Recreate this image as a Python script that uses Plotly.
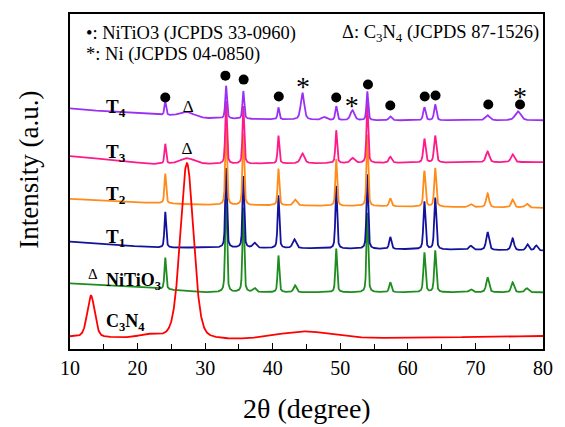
import numpy as np
import plotly.graph_objects as go

# ---------------- data ----------------
# x: 2theta (degree); y: intensity (arbitrary units, stacked offsets)
bg_2theta = [10, 15, 22, 30, 50, 80]

c3n4_bg = [12, 11, 10, 8, 10, 13]
c3n4_pos = [13.1, 21.5, 27.3, 44.5]
c3n4_amp = [42, 3, 178, 8]
c3n4_fwhm = [1.3, 3.0, 2.3, 10.0]

nitio3_bg = [66, 64, 61, 57, 57, 57]
nitio3_pos = [24.1, 33.1, 35.65, 37.3, 40.85, 43.3, 49.4, 54.0, 57.4, 62.45, 64.05, 69.3, 71.8, 75.5, 77.6]
nitio3_amp = [32, 105, 85, 4, 37, 7, 44, 80, 10, 40, 42, 3, 15, 10, 4]
nitio3_fwhm = [0.3, 0.3, 0.3, 0.6, 0.3, 0.5, 0.3, 0.3, 0.4, 0.35, 0.35, 0.6, 0.5, 0.5, 0.6]

t1_bg = [108, 106, 102, 102, 101, 99]
t1_pos = [24.1, 33.1, 35.65, 37.3, 40.85, 43.2, 49.4, 54.0, 57.4, 62.45, 64.05, 69.3, 71.8, 75.5, 77.7, 79.0]
t1_amp = [36, 80, 72, 5, 53, 9, 63, 75, 12, 48, 52, 4, 18, 12, 6, 5]
t1_fwhm = [0.3, 0.3, 0.3, 0.6, 0.3, 0.6, 0.3, 0.3, 0.4, 0.35, 0.35, 0.6, 0.5, 0.5, 0.5, 0.5]

t2_bg = [151, 149, 147, 145, 144, 142]
t2_pos = [24.1, 33.1, 35.65, 40.85, 43.3, 49.4, 54.0, 57.4, 62.45, 64.05, 69.3, 71.8, 75.5, 77.6]
t2_amp = [30, 80, 72, 37, 6, 47, 72, 8, 36, 39, 3, 14, 8, 4]
t2_fwhm = [0.3, 0.3, 0.3, 0.3, 0.6, 0.3, 0.3, 0.4, 0.35, 0.35, 0.6, 0.5, 0.5, 0.6]

t3_bg = [194, 191, 186, 186, 187, 188]
t3_pos = [24.1, 27.3, 33.1, 35.65, 40.85, 44.4, 49.4, 51.8, 54.0, 57.4, 62.45, 64.05, 71.8, 75.5]
t3_amp = [20, 6, 63, 58, 28, 10, 33, 5, 60, 6, 24, 27, 11, 8]
t3_fwhm = [0.3, 2.5, 0.3, 0.3, 0.3, 0.7, 0.3, 0.7, 0.3, 0.5, 0.4, 0.4, 0.6, 0.6]

t4_bg = [242, 239, 236, 232, 230, 230]
t4_pos = [24.1, 27.3, 33.1, 35.65, 40.85, 44.4, 47.6, 49.4, 51.8, 54.0, 57.4, 62.45, 64.05, 71.8, 76.3]
t4_amp = [14, 5, 33, 28, 12, 27, 3, 14, 10, 29, 4, 13, 16, 5, 9]
t4_fwhm = [0.3, 2.5, 0.3, 0.3, 0.3, 0.6, 0.8, 0.35, 0.7, 0.3, 0.5, 0.4, 0.4, 0.8, 1.0]

# phase markers above the T4 pattern
dot_2theta = [24.1, 33.0, 35.7, 40.9, 49.4, 54.1, 57.4, 62.5, 64.1, 71.9, 76.6]
dot_level = [253, 275, 271, 254, 253, 266, 245, 254, 255, 246, 246]
star_2theta = [44.5, 51.7, 76.6]
star_level = [269, 249, 259]
delta_2theta = [27.5, 27.3]
delta_level = [243, 200]

x_ticks = [10, 20, 30, 40, 50, 60, 70, 80]

# ---------------- build profiles ----------------
tt = np.linspace(10, 80, 2801)


def pattern(bg, pos, amp, fwhm, eta=0.5):
    y = np.interp(tt, bg_2theta, bg).astype(float)
    for c, a, w in zip(pos, amp, fwhm):
        d2 = 4.0 * (tt - c) ** 2 / w ** 2
        y += a * (eta / (1.0 + d2) + (1 - eta) * np.exp(-np.log(2) * d2))
    return y


series = [
    ("NiTiO3", nitio3_bg, nitio3_pos, nitio3_amp, nitio3_fwhm, 0.5, "#1E8C1E"),
    ("T1", t1_bg, t1_pos, t1_amp, t1_fwhm, 0.5, "#12129C"),
    ("T2", t2_bg, t2_pos, t2_amp, t2_fwhm, 0.5, "#FF8C1A"),
    ("T3", t3_bg, t3_pos, t3_amp, t3_fwhm, 0.5, "#FF1A8C"),
    ("T4", t4_bg, t4_pos, t4_amp, t4_fwhm, 0.5, "#9B30F5"),
    ("C3N4", c3n4_bg, c3n4_pos, c3n4_amp, c3n4_fwhm, 0.3, "#FF0000"),
]

fig = go.Figure()
for name, bg, pos, amp, fw, eta, col in series:
    fig.add_trace(go.Scatter(x=tt, y=pattern(bg, pos, amp, fw, eta), mode="lines",
                             line=dict(color=col, width=1.8), name=name,
                             showlegend=False, hoverinfo="skip"))

SERIF = "Liberation Serif"
fig.add_trace(go.Scatter(x=dot_2theta, y=dot_level, mode="markers",
                         marker=dict(symbol="circle", size=10, color="black"),
                         showlegend=False, hoverinfo="skip"))
fig.add_trace(go.Scatter(x=star_2theta, y=[v - 7 for v in star_level], mode="text",
                         text=["*"] * len(star_2theta),
                         textfont=dict(family=SERIF, size=28, color="black"),
                         showlegend=False, hoverinfo="skip"))
fig.add_trace(go.Scatter(x=delta_2theta, y=delta_level, mode="text",
                         text=["Δ"] * len(delta_2theta),
                         textfont=dict(family=SERIF, size=17, color="black"),
                         showlegend=False, hoverinfo="skip"))

anns = []


def txt(x, y, s, size, xanchor="left", xref="x", yref="y", angle=0):
    anns.append(dict(x=x, y=y, xref=xref, yref=yref, text=s, showarrow=False,
                     xanchor=xanchor, yanchor="middle", textangle=angle,
                     font=dict(family=SERIF, size=size, color="black")))


txt(12.0, 317, "•: NiTiO3 (JCPDS 33-0960)", 18.5)
txt(12.0, 296, "*: Ni (JCPDS 04-0850)", 18.5)
txt(79.7, 317, "Δ: C<sub>3</sub>N<sub>4</sub> (JCPDS 87-1526)", 18.5, xanchor="right")
txt(15.0, 242, "<b>T<sub>4</sub></b>", 19)
txt(15.0, 197, "<b>T<sub>3</sub></b>", 19)
txt(15.0, 155, "<b>T<sub>2</sub></b>", 19)
txt(15.0, 112, "<b>T<sub>1</sub></b>", 19)
txt(12.3, 75, "Δ", 15)
txt(15.1, 68, "<b>NiTiO<sub>3</sub></b>", 18)
txt(15.1, 27, "<b>C<sub>3</sub>N<sub>4</sub></b>", 18)
txt(0.5, (349 - 409) / 337, "2θ (degree)", 28, xanchor="center", xref="paper", yref="paper")
txt((28 - 70) / 481, (349 - 169) / 337, "Intensity (a.u.)", 27, xanchor="center",
    xref="paper", yref="paper", angle=-90)

fig.update_layout(
    width=565, height=427,
    margin=dict(l=70, r=14, t=12, b=78),
    paper_bgcolor="white", plot_bgcolor="white",
    font=dict(family=SERIF, color="black"),
    annotations=anns,
    xaxis=dict(range=[10, 80], tickvals=x_ticks, ticks="inside", ticklen=6,
               tickwidth=1.3, tickcolor="black",
               minor=dict(dtick=5, tick0=0, ticks="inside", ticklen=5, tickwidth=1.3, tickcolor="black"),
               showgrid=False, zeroline=False, showline=True, linecolor="black",
               linewidth=1.6, mirror=True, tickfont=dict(family=SERIF, size=20)),
    yaxis=dict(range=[0, 337], showticklabels=False, ticks="", showgrid=False,
               zeroline=False, showline=True, linecolor="black", linewidth=1.6,
               mirror=True),
)

fig.write_html(
    "out.html",
    config={"displayModeBar": False},
    post_script="document.body.style.margin='0';document.body.style.padding='0';"
                "document.body.style.overflow='hidden';",
)
